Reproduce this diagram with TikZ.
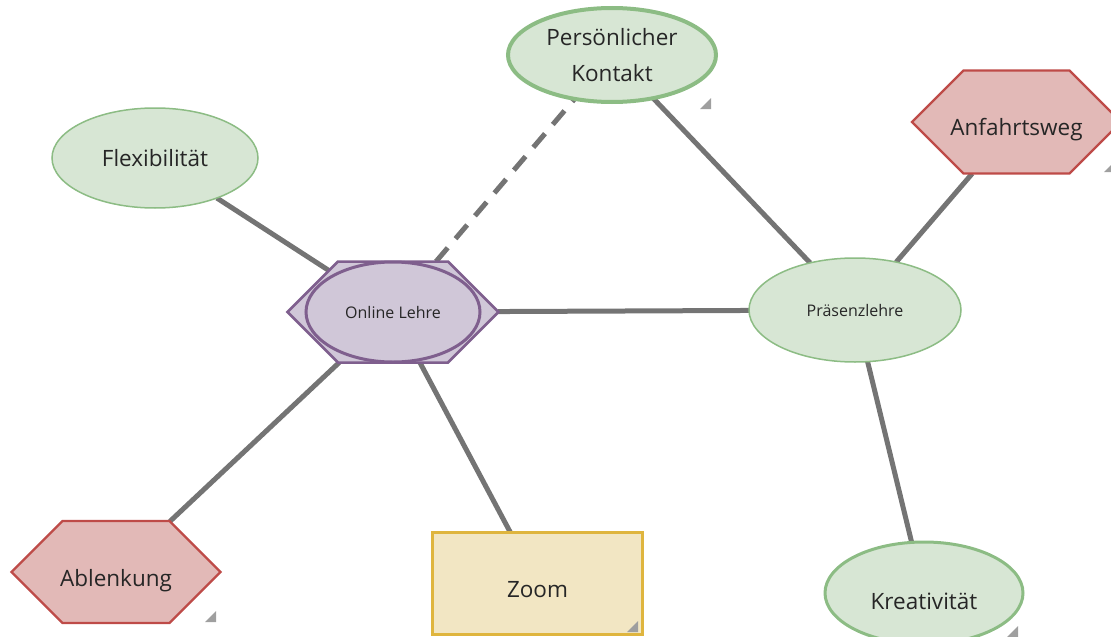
\documentclass[tikz,border=0pt]{standalone}
\usepackage{fontspec}
\setmainfont{Open Sans}
\usetikzlibrary{shapes.geometric,shapes.symbols,backgrounds}

\definecolor{gfill}{HTML}{D7E6D4}
\definecolor{gline}{HTML}{8CBC84}
\definecolor{rfill}{HTML}{E2B9B7}
\definecolor{rline}{HTML}{BE4B48}
\definecolor{pfill}{HTML}{D0C7D8}
\definecolor{pline}{HTML}{7F5F8E}
\definecolor{yfill}{HTML}{F2E6C3}
\definecolor{yline}{HTML}{DFB53E}
\definecolor{linkgray}{HTML}{747474}
\definecolor{labeltext}{HTML}{262626}

\begin{document}
\begin{tikzpicture}[x=1pt,y=-1pt,
  every node/.style={inner sep=0pt, outer sep=0pt, text=labeltext, align=center},
  bigtext/.style={font=\fontsize{22.5}{36}\selectfont},
  smalltext/.style={font=\fontsize{16}{19}\selectfont},
  % caption set slightly below the shape's centre
  lowcaption/.style 2 args={label={[bigtext, yshift=-#2]center:#1}},
  greenell/.style={ellipse, fill=gfill, draw=gline, line width=1.5pt},
  redhex/.style={signal, signal to=west and east, signal pointer angle=90,
    fill=rfill, draw=rline, line width=2.2pt},
  link/.style={draw=linkgray, line width=5pt},
  dashlink/.style={link, dash pattern=on 18pt off 12pt},
  grip/.style={fill=gray!75}
]
\useasboundingbox (0,0) rectangle (1111,637);
\clip (0,0) rectangle (1111,637);

% central topic: hexagon with an ellipse inside
\node[signal, signal to=west and east, signal pointer angle=90,
      minimum width=211pt, minimum height=101pt,
      fill=pfill, draw=pline, line width=2.5pt] (olhex) at (393,312) {};
\node[ellipse, minimum width=174pt, minimum height=100pt,
      fill=pfill, draw=pline, line width=3pt, smalltext] (ol) at (393,312) {Online Lehre};

% surrounding topics
\node[greenell, line width=4pt, minimum width=208pt, minimum height=94pt, bigtext]
  (kontakt) at (612,55) {Persönlicher\\Kontakt};
\node[greenell, minimum width=206pt, minimum height=100pt, bigtext]
  (flex) at (155,158) {Flexibilität};
\node[greenell, minimum width=212pt, minimum height=104pt, smalltext]
  (praes) at (855,310) {Präsenzlehre};
\node[greenell, line width=3pt, minimum width=198pt, minimum height=102pt,
      lowcaption={Kreativität}{8pt}]
  (kreativ) at (924,593) {};
\node[redhex, minimum width=209pt, minimum height=103pt, lowcaption={Anfahrtsweg}{8pt}]
  (anfahrt) at (1016.5,122) {};
\node[redhex, minimum width=209pt, minimum height=102pt, lowcaption={Ablenkung}{9pt}]
  (ablenk) at (116,572) {};
\node[rectangle, minimum width=210pt, minimum height=102pt,
      fill=yfill, draw=yline, line width=3pt, lowcaption={Zoom}{6pt}]
  (zoom) at (537.5,583.5) {};

% connectors behind the shapes
\begin{scope}[on background layer]
  \draw[link] (flex) -- (olhex);
  \draw[dashlink] (olhex) -- (kontakt);
  \draw[link] (olhex) -- (praes);
  \draw[link] (olhex) -- (ablenk);
  \draw[link] (olhex) -- (zoom);
  \draw[link] (kontakt) -- (praes);
  \draw[link] (praes) -- (anfahrt);
  \draw[link] (praes) -- (kreativ);
\end{scope}

% small resize grips
\fill[grip] (700,109) -- (711,98) -- (711,109) -- cycle;
\fill[grip] (1104,172) -- (1113,163) -- (1113,172) -- cycle;
\fill[grip] (205,622) -- (216,611) -- (216,622) -- cycle;
\fill[grip] (627,632) -- (638,621) -- (638,632) -- cycle;
\fill[grip] (1007,637) -- (1018,626) -- (1018,637) -- cycle;
\end{tikzpicture}
\end{document}
